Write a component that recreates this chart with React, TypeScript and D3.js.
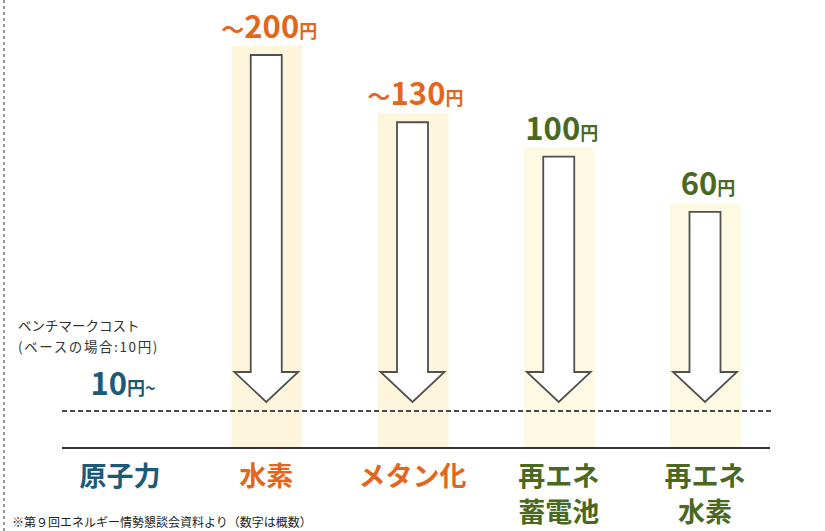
import React, { useEffect, useRef } from 'react'
import * as d3 from 'd3'

// categories (line breaks with "\n")
const categories = ['原子力', '水素', 'メタン化', '再エネ\n蓄電池', '再エネ\n水素']
// approximate cost per kWh (円)
const costs = [10, 200, 130, 100, 60]
const labelPrefix = ['', '～', '～', '', '']
const labelSuffix = ['~', '', '', '', '']
const groupColors = ['#1c5a78', '#e2661c', '#e2661c', '#4a691f', '#4a691f']

const benchmarkLines = ['ベンチマークコスト', '(ベースの場合:10円)']
const footnote = '※第９回エネルギー情勢懇談会資料より（数字は概数）'

const JP = '"Noto Sans CJK JP", "Noto Sans", sans-serif'

export default function App() {
    const ref = useRef<SVGSVGElement | null>(null)

    const width = 825
    const height = 531

    function draw() {
        var svg = d3.select(ref.current)
        svg.selectAll('*').remove()

        var benchY = 411
        var baseY = 448
        var tipY = benchY - 9

        var x = d3.scalePoint<string>()
            .domain(categories)
            .range([120, 705])

        // schematic cost scale: arrow length grows with sqrt(cost)
        var y = d3.scaleSqrt()
            .domain([0, 200])
            .range([tipY, 55])

        svg.append('rect')
            .attr('width', width)
            .attr('height', height)
            .attr('fill', '#ffffff')

        // left dashed border of the scan
        svg.append('line')
            .attr('x1', 4).attr('x2', 4)
            .attr('y1', 0).attr('y2', height)
            .attr('stroke', '#777')
            .attr('stroke-width', 1.5)
            .attr('stroke-dasharray', '3,3')

        var items = categories.map(function (c, i) {
            return { cat: c, cost: costs[i], pre: labelPrefix[i], suf: labelSuffix[i], color: groupColors[i] }
        })
        var arrows = items.slice(1)

        // highlight columns
        svg.append('g').selectAll('rect')
            .data(arrows)
            .enter().append('rect')
            .attr('x', function (d) { return (x(d.cat) as number) - 35 })
            .attr('width', 71)
            .attr('y', function (d) { return y(d.cost) - 9 })
            .attr('height', function (d) { return baseY - y(d.cost) + 9 })
            .attr('fill', function (d, i) { return i < 2 ? '#fdf5dc' : '#fdf9e2' })

        // benchmark dotted line
        svg.append('line')
            .attr('x1', 62).attr('x2', 772)
            .attr('y1', benchY).attr('y2', benchY)
            .attr('stroke', '#4a4a4a')
            .attr('stroke-width', 2)
            .attr('stroke-dasharray', '5,3')

        // base line
        svg.append('line')
            .attr('x1', 62).attr('x2', 770)
            .attr('y1', baseY).attr('y2', baseY)
            .attr('stroke', '#333')
            .attr('stroke-width', 2)

        // arrows
        var shaftHalf = 15.5
        var headHalf = 32
        var headH = 30
        svg.append('g').selectAll('path')
            .data(arrows)
            .enter().append('path')
            .attr('d', function (d) {
                var cx = x(d.cat) as number
                var top = y(d.cost)
                var p = d3.path()
                p.moveTo(cx - shaftHalf, top)
                p.lineTo(cx + shaftHalf, top)
                p.lineTo(cx + shaftHalf, tipY - headH)
                p.lineTo(cx + headHalf, tipY - headH)
                p.lineTo(cx, tipY)
                p.lineTo(cx - headHalf, tipY - headH)
                p.lineTo(cx - shaftHalf, tipY - headH)
                p.closePath()
                return p.toString()
            })
            .attr('fill', '#ffffff')
            .attr('stroke', '#505050')
            .attr('stroke-width', 1.8)
            .attr('stroke-linejoin', 'miter')

        // value labels
        var vl = svg.append('g').selectAll('text')
            .data(items)
            .enter().append('text')
            .attr('x', function (d) { return (x(d.cat) as number) + 3 })
            .attr('y', function (d, i) { return i === 0 ? 395 : y(d.cost) - 17 })
            .attr('text-anchor', 'middle')
            .attr('font-family', JP)
            .attr('font-weight', 'bold')
            .attr('fill', function (d) { return d.color })
        vl.append('tspan')
            .attr('font-size', 23)
            .text(function (d) { return d.pre })
        vl.append('tspan')
            .attr('font-size', 31)
            .text(function (d) { return String(d.cost) })
        vl.append('tspan')
            .attr('font-size', 18)
            .text('円')
        vl.append('tspan')
            .attr('font-size', 18)
            .text(function (d) { return d.suf })

        // category labels, one text per line
        var rows: { cat: string, line: string, j: number, color: string }[] = []
        items.forEach(function (d) {
            d.cat.split('\n').forEach(function (ln, j) {
                rows.push({ cat: d.cat, line: ln, j: j, color: d.color })
            })
        })
        svg.append('g').selectAll('text')
            .data(rows)
            .enter().append('text')
            .attr('x', function (d) { return x(d.cat) as number })
            .attr('y', function (d) { return 486 + d.j * 36 })
            .attr('text-anchor', 'middle')
            .attr('font-family', JP)
            .attr('font-weight', 'bold')
            .attr('font-size', 27)
            .attr('fill', function (d) { return d.color })
            .text(function (d) { return d.line })

        // benchmark note
        svg.append('g').selectAll('text')
            .data(benchmarkLines)
            .enter().append('text')
            .attr('x', 18)
            .attr('y', function (d, i) { return 331 + i * 21 })
            .attr('font-family', JP)
            .attr('font-size', 13.5)
            .attr('letter-spacing', function (d, i) { return i === 1 ? 1.6 : 0 })
            .attr('fill', '#333')
            .text(function (d) { return d })

        svg.append('text')
            .attr('x', 12)
            .attr('y', 527)
            .attr('font-family', JP)
            .attr('font-size', 12)
            .attr('fill', '#222')
            .text(footnote)
    }

    useEffect(() => {
        draw()
    }, [])

    return (
        <svg
            ref={ref}
            width={width}
            height={height}
            style={{ position: 'absolute', left: 0, top: 0 }}
        />
    )
}
